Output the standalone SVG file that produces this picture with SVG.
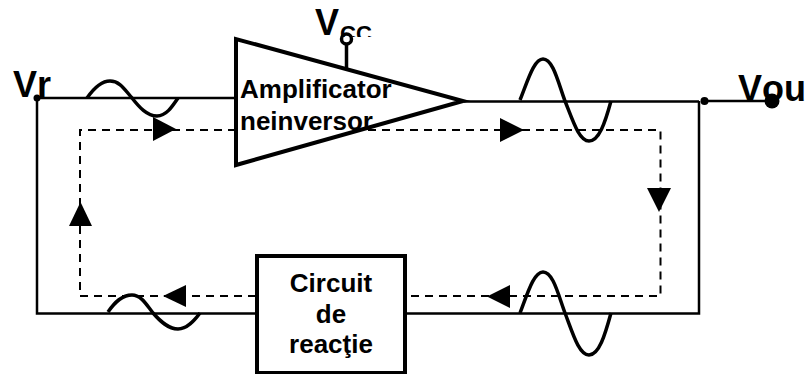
<svg xmlns="http://www.w3.org/2000/svg" width="809" height="374" viewBox="0 0 809 374">
<style>
text{font-family:"Liberation Sans",Arial,sans-serif;font-weight:bold;fill:#000;font-kerning:none}
.lab{font-size:26px}
.big{font-size:36px}
.mid{text-anchor:middle}
.wire{fill:none;stroke:#000;stroke-width:2.5}
.dash{fill:none;stroke:#000;stroke-width:2;stroke-dasharray:8 6}
.sine{fill:none;stroke:#000;stroke-width:3.5}
.block{fill:#fff;stroke:#000;stroke-width:4}
</style>
<defs>
<clipPath id="ccClip"><rect x="335" y="20" width="45" height="17"/></clipPath>
</defs>
<g id="connectors">
<path class="dash" d="M256 296H80V130H660.5V296H406"/>
<path class="wire" d="M37 98H236M464 101.500H699M705 101H770M699 101V313.500H404M258 313.500H37V98"/>
<path fill="none" stroke="#000" stroke-width="3.500" d="M346.500 68V44"/>
<path d="M153 117V141L176 129Z"/>
<path d="M500 118V142L524 130Z"/>
<path d="M647 188H671L659 212Z"/>
<path d="M69 226H92L80.500 202Z"/>
<path d="M186 285V307L163 296Z"/>
<path d="M510 285V308L487 296.500Z"/>
</g>
<g id="amplifier">
<path class="block" d="M236 39V165L463 101Z"/>
<text class="lab" x="240" y="98">Amplificator</text>
<text class="lab" x="240" y="130">neinversor</text>
</g>
<g id="feedback">
<rect class="block" x="257" y="256" width="148" height="117"/>
<text class="lab mid" x="331" y="292">Circuit</text>
<text class="lab mid" x="331" y="323">de</text>
<text class="lab mid" x="331" y="353">reacţie</text>
</g>
<g id="signals">
<path class="sine" d="M87 98C94 88 101 81 110 81C120 81 125 90 132 98C139 107 147 116 157 116C166 116 172 107 178 98"/>
<path class="sine" d="M520 100C528 80 534 59 543 59C553 59 558 82 565 101C573 121 579 141 589 141C599 141 605 123 611 101"/>
<path class="sine" d="M520 313C528 292 534 272 543 272C553 272 558 294 565 313C573 334 579 355 589 355C599 355 605 335 611 313"/>
<path class="sine" d="M108 312C115 302 122 295 132 295C141 295 146 304 153 313C160 321 168 329 178 329C187 329 194 321 200 313"/>
</g>
<g id="vcc">
<circle cx="346.500" cy="39" r="5" fill="#fff" stroke="#000" stroke-width="3.500"/>
<text class="big" x="315" y="35">V</text>
<text x="340" y="41" font-size="22" clip-path="url(#ccClip)">CC</text>
</g>
<g id="vr">
<circle cx="37" cy="98" r="3.500"/>
<text class="big" x="13" y="97">Vr</text>
</g>
<g id="vout">
<circle cx="704.500" cy="101" r="4"/>
<circle cx="772" cy="101" r="7.500"/>
<text class="big" x="738" y="101">Vou</text>
</g>
</svg>
